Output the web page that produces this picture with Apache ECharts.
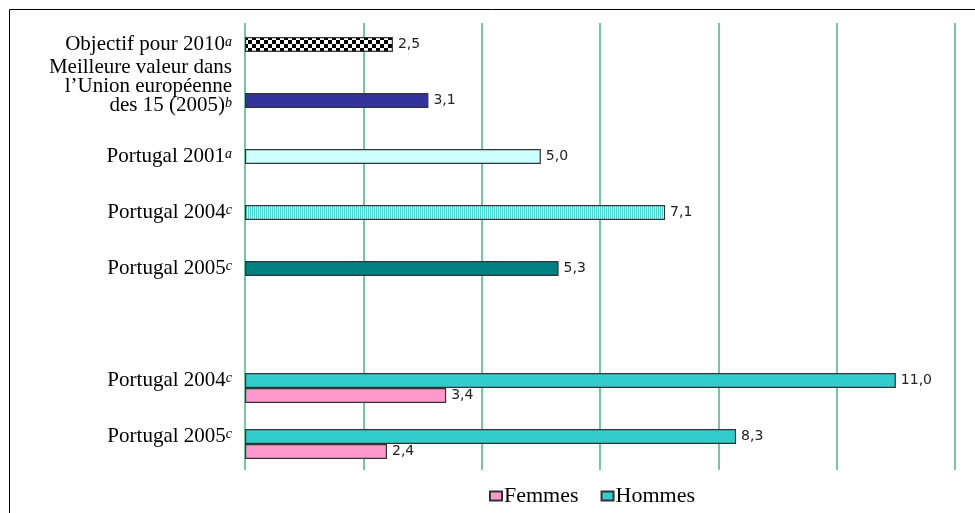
<!DOCTYPE html>
<html>
<head>
<meta charset="utf-8">
<script src="https://cdn.jsdelivr.net/npm/echarts@6/dist/echarts.min.js"></script>
<style>
  html, body { margin: 0; background: #fff; }
  #chart { width: 975px; height: 513px; }
</style>
</head>
<body>
<div id="chart"></div>
<script>
// catégories (de haut en bas) et notes en exposant
const categories = [
  'Objectif pour 2010',
  'Meilleure valeur dans\nl’Union européenne\ndes 15 (2005)',
  'Portugal 2001',
  'Portugal 2004',
  'Portugal 2005',
  '',
  'Portugal 2004',
  'Portugal 2005'
]
const notes = ['a', 'b', 'a', 'c', 'c', '', 'c', 'c']

const singleValues = [2.5, 3.1, 5.0, 7.1, 5.3, '-', '-', '-']
const hommesValues = ['-', '-', '-', '-', '-', '-', 11.0, 8.3]
const femmesValues = ['-', '-', '-', '-', '-', '-', 3.4, 2.4]
const xTicks = [0, 2, 4, 6, 8, 10, 12]

// motifs de remplissage
function checkerPattern() {
  const c = document.createElement('canvas')
  c.width = 8; c.height = 8
  const ctx = c.getContext('2d')
  ctx.fillStyle = '#fff'; ctx.fillRect(0, 0, 8, 8)
  ctx.fillStyle = '#000'
  ctx.fillRect(0, 0, 4, 4); ctx.fillRect(4, 4, 4, 4)
  return c
}
function stripePattern() {
  const c = document.createElement('canvas')
  c.width = 2; c.height = 2
  const ctx = c.getContext('2d')
  ctx.fillStyle = '#e4ffff'; ctx.fillRect(0, 0, 2, 2)
  ctx.fillStyle = '#4fd2d2'; ctx.fillRect(0, 0, 1, 2)
  return c
}

const singleColors = [
  { image: checkerPattern(), repeat: 'repeat' },
  '#333399',
  '#ccffff',
  { image: stripePattern(), repeat: 'repeat' },
  '#008080'
]

const fmt = v => Number(v).toFixed(1).replace('.', ',')

const valueLabel = {
  show: true,
  position: 'right',
  distance: 5,
  fontFamily: 'DejaVu Sans',
  fontSize: 14,
  color: '#222',
  formatter: p => fmt(p.value)
}

const chart = echarts.init(document.getElementById('chart'))

const option = {
  animation: false,
  backgroundColor: '#fff',
  textStyle: { fontFamily: 'Liberation Serif' },
  graphic: [{
    type: 'rect',
    shape: { x: 9.5, y: 9.5, width: 1000, height: 600 },
    style: { fill: 'none', stroke: '#000', lineWidth: 1 },
    silent: true
  }],
  legend: {
    data: ['Femmes', 'Hommes'],
    bottom: 1,
    left: 484,
    icon: 'rect',
    itemWidth: 12,
    itemHeight: 9,
    itemGap: 22,
    textStyle: { fontFamily: 'Liberation Serif', fontSize: 22, color: '#000', padding: [0, 0, 4, -3] }
  },
  grid: [
    { left: 245, right: 20, top: 16.5, bottom: 48.5 },
    { left: 245, right: 20, top: 23, bottom: 43 }
  ],
  xAxis: [
    {
      gridIndex: 0, type: 'value', min: 0, max: 12, interval: 2,
      axisLine: { show: false }, axisTick: { show: false },
      axisLabel: { show: false }, splitLine: { show: false }
    },
    {
      gridIndex: 1, type: 'value', min: 0, max: 12, interval: 2,
      axisLine: { show: false }, axisTick: { show: false },
      axisLabel: { show: false },
      splitLine: { show: true, lineStyle: { color: '#52ba86', width: 1.6 } }
    }
  ],
  yAxis: [
    {
      gridIndex: 0, type: 'category', inverse: true, data: categories,
      axisLine: { show: false }, axisTick: { show: false },
      splitLine: { show: false },
      axisLabel: {
        margin: 13,
        formatter: (v, i) => {
          if (!categories[i]) return ''
          const lines = categories[i].split('\n').map(s => '{t|' + s + '}')
          lines[lines.length - 1] += '{s|' + notes[i] + '}'
          if (lines.length > 1) lines.push('{g| }')
          return lines.join('\n')
        },
        rich: {
          t: { fontFamily: 'Liberation Serif', fontSize: 21, color: '#000', lineHeight: 19 },
          s: { fontFamily: 'Liberation Serif', fontSize: 14, fontStyle: 'italic', color: '#000', lineHeight: 8, verticalAlign: 'top' },
          g: { fontSize: 10, lineHeight: 28 }
        }
      }
    },
    {
      gridIndex: 1, type: 'category', data: categories, show: false,
      splitLine: { show: false }
    }
  ],
  series: [
    {
      name: 'ghost', type: 'bar', stack: 'g', xAxisIndex: 0, yAxisIndex: 0,
      barWidth: 15, barGap: '0%',
      data: categories.map(() => '-')
    },
    {
      name: 'single', type: 'bar', stack: 'm', xAxisIndex: 0, yAxisIndex: 0,
      barWidth: 15, barGap: '0%',
      data: singleValues.map((v, i) => ({
        value: v,
        itemStyle: { color: singleColors[i] || '#fff' }
      })),
      itemStyle: { borderColor: '#333', borderWidth: 1.2 },
      label: valueLabel
    },
    {
      name: 'Hommes', type: 'bar', stack: 'm', xAxisIndex: 0, yAxisIndex: 0,
      barWidth: 15, barGap: '0%',
      data: hommesValues,
      itemStyle: { color: '#33cccc', borderColor: '#333', borderWidth: 1.2 },
      label: valueLabel
    },
    {
      name: 'Femmes', type: 'bar', xAxisIndex: 0, yAxisIndex: 0,
      barWidth: 15, barGap: '0%',
      data: femmesValues,
      itemStyle: { color: '#ff99cc', borderColor: '#333', borderWidth: 1.2 },
      label: valueLabel
    }
  ]
}

chart.setOption(option)
</script>
</body>
</html>
